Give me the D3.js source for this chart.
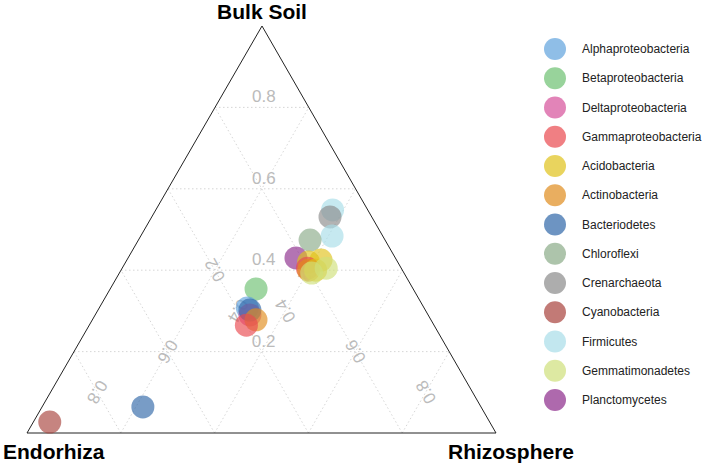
<!DOCTYPE html>
<html><head><meta charset="utf-8">
<script src="https://cdn.jsdelivr.net/npm/d3@7"></script>
<style>body{margin:0;background:#fff;font-family:"Liberation Sans",Arial,sans-serif}</style>
</head><body><svg id="svg"></svg>
<script>
// legend categories and colours
const phyla = ["Alphaproteobacteria","Betaproteobacteria","Deltaproteobacteria","Gammaproteobacteria",
  "Acidobacteria","Actinobacteria","Bacteriodetes","Chloroflexi","Crenarchaeota","Cyanobacteria",
  "Firmicutes","Gemmatimonadetes","Planctomycetes"];
const colors = ["#5fa2dd","#6cc070","#d5509a","#e9484f","#e0c21a","#e08c1c","#2f67a8","#8aab88",
  "#8a8a8a","#a8423c","#a8dde8","#cfe07a","#8b2a8a"];
// points: phylum, bulk soil share, rhizosphere share (endorhiza = rest)
const ptPhylum = ["Cyanobacteria","Bacteriodetes","Betaproteobacteria","Alphaproteobacteria","Deltaproteobacteria",
  "Bacteriodetes","Actinobacteria","Gammaproteobacteria",
  "Firmicutes","Crenarchaeota","Firmicutes","Chloroflexi","Planctomycetes","Acidobacteria","Acidobacteria",
  "Gammaproteobacteria","Actinobacteria","Acidobacteria","Gemmatimonadetes","Gemmatimonadetes"];
const ptBulk = [0.027,0.064,0.354,0.307,0.29,0.302,0.278,0.265,
  0.548,0.531,0.484,0.474,0.43,0.42,0.425,0.405,0.40,0.40,0.405,0.393];
const ptRhizo = [0.035,0.215,0.311,0.316,0.33,0.324,0.349,0.335,
  0.377,0.38,0.408,0.366,0.358,0.39,0.414,0.395,0.40,0.415,0.435,0.41];
const ticks = [0.2,0.4,0.6,0.8];

const svg = d3.select("#svg").attr("width",706).attr("height",463);
const E = [27,433], R = [496,433], B = [262,26];
const color = d3.scaleOrdinal().domain(phyla).range(colors);
function pos(b,r){ let e=1-b-r; return [e*E[0]+b*B[0]+r*R[0], e*E[1]+b*B[1]+r*R[1]]; }

const g = svg.append("g");
// grid
ticks.forEach(v=>{
  const segs = [[pos(v,0),pos(v,1-v)],[pos(0,v),pos(1-v,v)],[pos(0,1-v),pos(1-v,0)]];
  segs.forEach(s=>g.append("line").attr("x1",s[0][0]).attr("y1",s[0][1]).attr("x2",s[1][0]).attr("y2",s[1][1])
    .attr("stroke","#ccc").attr("stroke-width",0.8).attr("stroke-dasharray","1.5,2.5"));
});
g.append("path").attr("d",d3.line()([E,R,B,E])).attr("fill","none").attr("stroke","#222").attr("stroke-width",1);

// tick labels along medians
ticks.forEach(v=>{
  let p = pos(v,(1-v)/2);
  g.append("text").attr("x",p[0]+2).attr("y",p[1]-5).attr("text-anchor","middle").attr("fill","#bbb").attr("font-size",17).text(v.toFixed(1));
  p = pos((1-v)/2,v);
  g.append("text").attr("transform",`translate(${p[0]},${p[1]}) rotate(-120)`).attr("dy","0.35em").attr("text-anchor","middle").attr("fill","#bbb").attr("font-size",17).text(v.toFixed(1));
  p = pos((1-v)/2,(1-v)/2);
  g.append("text").attr("transform",`translate(${p[0]},${p[1]}) rotate(120)`).attr("dy","0.35em").attr("text-anchor","middle").attr("fill","#bbb").attr("font-size",17).text(v.toFixed(1));
});

// points
g.selectAll("circle.pt").data(ptPhylum).enter().append("circle").attr("class","pt")
  .attr("cx",(d,i)=>pos(ptBulk[i],ptRhizo[i])[0]).attr("cy",(d,i)=>pos(ptBulk[i],ptRhizo[i])[1])
  .attr("r",11.5).attr("fill",d=>color(d)).attr("opacity",0.65);

// axis titles
svg.append("text").attr("x",262).attr("y",19).attr("text-anchor","middle").attr("font-weight","bold").attr("font-size",21).text("Bulk Soil");
svg.append("text").attr("x",3).attr("y",459).attr("font-weight","bold").attr("font-size",21).text("Endorhiza");
svg.append("text").attr("x",574).attr("y",459).attr("text-anchor","end").attr("font-weight","bold").attr("font-size",21).text("Rhizosphere");

// legend
const y = d3.scaleLinear().domain([0,12]).range([49,400]);
const lg = svg.append("g").selectAll("g").data(phyla).enter().append("g")
  .attr("transform",(d,i)=>`translate(555,${y(i)})`);
lg.append("circle").attr("r",11).attr("fill",d=>color(d)).attr("opacity",0.7);
lg.append("text").attr("x",27).attr("dy","0.35em").attr("font-size",12).attr("fill","#222").text(d=>d);
</script></body></html>
